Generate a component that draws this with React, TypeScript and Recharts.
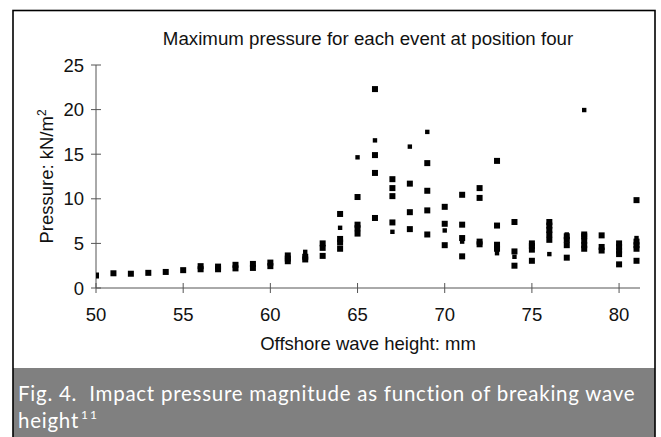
import React from 'react';
import { ScatterChart, Scatter, XAxis, YAxis } from 'recharts';

// Offshore wave height (mm) for each column of large markers
const waveHeights = [50, 51, 52, 53, 54, 55, 56, 57, 58, 59, 60, 61, 62, 63, 64, 65, 66, 67, 68, 69, 70, 71, 72, 73, 74, 75, 76, 77, 78, 79, 80, 81];
// Pressures (kN/m2) of the large markers at each wave height
const largePressures = [
  [1.4],
  [1.65],
  [1.6],
  [1.7],
  [1.8],
  [2.0],
  [2.1, 2.45],
  [2.1, 2.4],
  [2.2, 2.6],
  [2.25, 2.7],
  [2.45, 2.85],
  [3.0, 3.3, 3.65],
  [3.2, 3.5],
  [3.6, 4.5, 5.0],
  [4.4, 5.1, 5.5, 8.3],
  [6.1, 6.7, 7.1, 10.2],
  [7.85, 12.9, 14.9, 22.3],
  [7.35, 10.3, 11.2, 12.2],
  [6.6, 8.5, 11.7],
  [6.0, 8.7, 10.9, 14.0],
  [4.8, 7.2, 9.1],
  [3.55, 5.6, 7.1, 10.45],
  [4.9, 5.2, 10.1, 11.2],
  [4.4, 4.85, 7.0, 14.25],
  [2.5, 4.1, 7.4],
  [3.05, 4.3, 4.7, 5.0],
  [5.4, 6.0, 6.5, 7.0, 7.4],
  [3.4, 4.8, 5.4, 5.8],
  [4.4, 4.8, 5.3, 5.8, 6.0],
  [4.2, 4.6, 5.9],
  [2.65, 3.8, 4.2, 4.6, 5.0],
  [3.05, 4.4, 4.8, 5.2, 9.85],
];
// Small markers
const smallWaveHeights = [62, 64, 65, 66, 67, 68, 69, 70, 71, 73, 74, 76, 77, 78, 81];
const smallPressures = [4.05, 6.75, 14.65, 16.55, 6.3, 15.85, 17.5, 6.45, 5.2, 3.9, 3.5, 3.8, 6.0, 19.95, 5.6];

const xTicks = [50, 55, 60, 65, 70, 75, 80];
const yTicks = [0, 5, 10, 15, 20, 25];

const chartTitle = 'Maximum pressure for each event at position four';
const xTitle = 'Offshore wave height: mm';
const yTitle = 'Pressure: kN/m';
const captionLine1 = 'Fig. 4.  Impact pressure magnitude as function of breaking wave';
const captionLine2 = 'height';
const captionRef = '11';

const largeData = waveHeights.flatMap((h, i) => largePressures[i].map((p) => ({ h, p })));
const smallData = smallWaveHeights.map((h, i) => ({ h, p: smallPressures[i] }));

const FONT = '"Liberation Sans", Arial, sans-serif';
const TEXT = '#111';
const AXIS = '#555';
const FS = 18.5;

const XTick = (props: any) => {
  const { x, y, payload } = props;
  const axisY = y - 20;
  return (
    <g>
      <line x1={x} x2={x} y1={axisY - 5} y2={axisY + 5} stroke={AXIS} strokeWidth={1} />
      <text x={x} y={axisY + 33} textAnchor="middle" fontFamily={FONT} fontSize={FS} fill={TEXT}>
        {payload.value}
      </text>
    </g>
  );
};

const YTick = (props: any) => {
  const { x, y, payload } = props;
  const axisX = x + 12;
  return (
    <g>
      <line x1={axisX - 5} x2={axisX + 5} y1={y} y2={y} stroke={AXIS} strokeWidth={1} />
      <text x={x} y={y + 6.6} textAnchor="end" fontFamily={FONT} fontSize={FS} fill={TEXT}>
        {payload.value}
      </text>
    </g>
  );
};

const BigSquare = (props: any) => {
  const { cx, cy } = props;
  return <rect x={cx - 3} y={cy - 3} width={6} height={6} fill="#000" />;
};
const SmallSquare = (props: any) => {
  const { cx, cy } = props;
  return <rect x={cx - 2.2} y={cy - 2.2} width={4.4} height={4.4} fill="#000" />;
};

export default function App() {
  return (
    <div style={{ position: 'absolute', left: 0, top: 0, width: 661, height: 437, overflow: 'hidden', background: '#fff' }}>
      <svg width={661} height={437} style={{ position: 'absolute', left: 0, top: 0 }}>
        <rect x={13} y={368} width={642} height={72} fill="#808080" />
        <rect x={13} y={10.5} width={642} height={440} fill="none" stroke="#000" strokeWidth={1.6} />
        <text x={368} y={44.5} textAnchor="middle" fontFamily={FONT} fontSize={18.7} fill={TEXT}>
          {chartTitle}
        </text>
        <text x={368} y={350} textAnchor="middle" fontFamily={FONT} fontSize={FS} fill={TEXT}>
          {xTitle}
        </text>
        <text transform="translate(53,176.5) rotate(-90)" textAnchor="middle" fontFamily={FONT} fontSize={FS} fill={TEXT}>
          {yTitle}
          <tspan dy={-7} fontSize={12}>2</tspan>
        </text>
        <text x={18} y={401} fontFamily="Lato, sans-serif" fontSize={20.5} letterSpacing={0.75} fill="#fff" style={{ whiteSpace: 'pre' }}>
          {captionLine1}
        </text>
        <text x={18} y={428} fontFamily="Lato, sans-serif" fontSize={20.5} letterSpacing={0.75} fill="#fff">
          {captionLine2}
          <tspan dx={2} dy={-9} fontSize={12} letterSpacing={2}>{captionRef}</tspan>
        </text>
      </svg>
      <div style={{ position: 'absolute', left: 0, top: 0 }}>
        <ScatterChart width={661} height={368} margin={{ top: 65, right: 21, bottom: 50, left: 46 }}>
          <XAxis
            type="number"
            dataKey="h"
            domain={[50, 81.2]}
            ticks={xTicks}
            interval={0}
            height={30}
            tickSize={5}
            tickMargin={15}
            tickLine={false}
            tick={<XTick />}
            axisLine={{ stroke: AXIS, strokeWidth: 1 }}
            allowDataOverflow
          />
          <YAxis
            type="number"
            dataKey="p"
            domain={[0, 25]}
            ticks={yTicks}
            interval={0}
            width={50}
            tickSize={5}
            tickMargin={7}
            tickLine={false}
            tick={<YTick />}
            axisLine={{ stroke: AXIS, strokeWidth: 1 }}
          />
          <Scatter data={largeData} shape={<BigSquare />} isAnimationActive={false} />
          <Scatter data={smallData} shape={<SmallSquare />} isAnimationActive={false} />
        </ScatterChart>
      </div>
    </div>
  );
}
